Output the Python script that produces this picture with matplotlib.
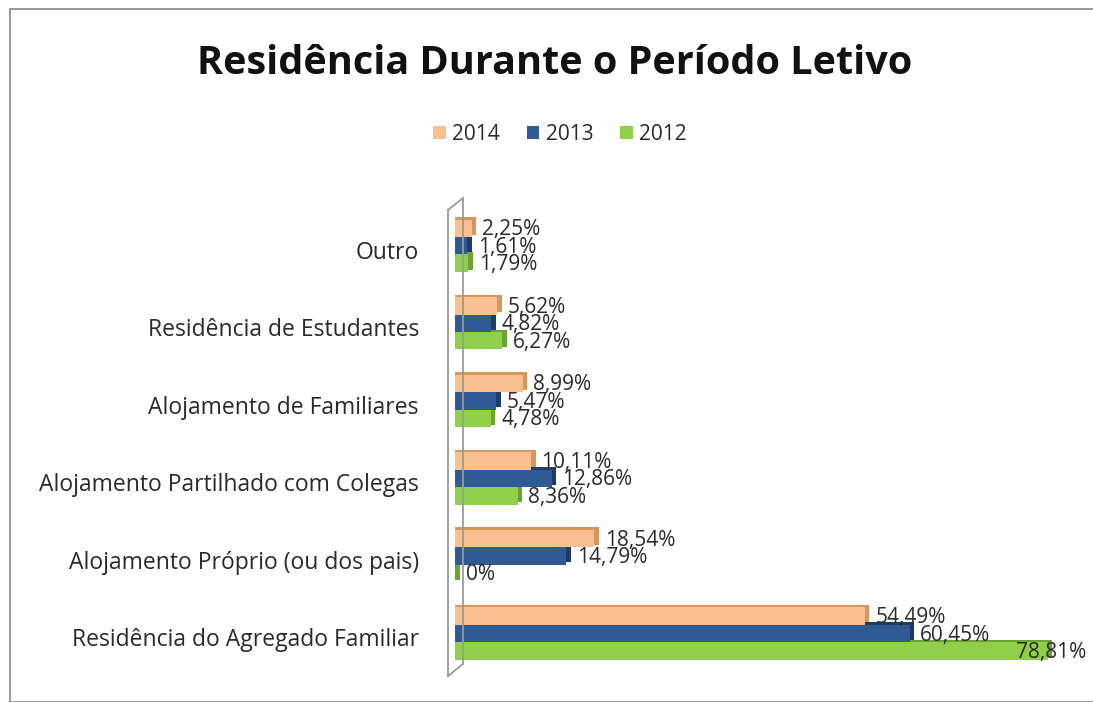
import matplotlib
matplotlib.use("Agg")
import matplotlib.pyplot as plt
from matplotlib.patches import Rectangle, Patch
from matplotlib.lines import Line2D
import numpy as np

plt.rcParams['font.family'] = ['Open Sans', 'DejaVu Sans']

categories = ["Outro",
              "Residência de Estudantes",
              "Alojamento de Familiares",
              "Alojamento Partilhado com Colegas",
              "Alojamento Próprio (ou dos pais)",
              "Residência do Agregado Familiar"]
years = ["2014", "2013", "2012"]
v2014 = [2.25, 5.62, 8.99, 10.11, 18.54, 54.49]
v2013 = [1.61, 4.82, 5.47, 12.86, 14.79, 60.45]
v2012 = [1.79, 6.27, 4.78, 8.36, 0, 78.81]

colors = ["#FAC090", "#2F5A93", "#8FCF4A"]
dark = ["#D8965C", "#1E3D66", "#6AA532"]

W, H = 1093, 702
fig = plt.figure(figsize=(W / 100, H / 100), dpi=100)

# outer chart frame
fig.patches.append(Rectangle((10 / W, 0), 1.2, 1 - 9 / H, transform=fig.transFigure,
                             fill=False, edgecolor="#888888", lw=1.2))

# 3D wall behind the bars
wall = [((448, 210), (448, 676)), ((463, 198), (463, 664)),
        ((448, 210), (463, 198)), ((448, 676), (463, 664))]
for (x0, y0), (x1, y1) in wall:
    fig.lines.append(Line2D([x0 / W, x1 / W], [1 - y0 / H, 1 - y1 / H],
                            transform=fig.transFigure, color="#9a9a9a", lw=1.3))

ax = fig.add_axes([455 / W, 1 - 673 / H, (80 * 7.52) / W, 473 / H])
ax.patch.set_alpha(0)

y = np.arange(len(categories))
h = 0.225
series = [v2014, v2013, v2012]
offs = [-h, 0, h]
for vals, off, c, dc, yr in zip(series, offs, colors, dark, years):
    ax.barh(y + off + 0.01, np.array(vals) + 0.6, height=h, left=0,
            color=dc, zorder=2)
    ax.barh(y + off + 0.04, vals, height=h, color=c, zorder=3, label=yr)
    for yi, v in zip(y, vals):
        lx = min(v + 1.4, 74.6)
        ax.text(lx, yi + off + 0.06, f"{v:.2f}%".replace(".", ",") if v else "0%",
                va="center", ha="left", fontsize=15, color="#2a2a2a", zorder=4)

ax.set_xlim(0, 80)
ax.set_ylim(5.55, -0.55)
ax.set_yticks(y + 0.09)
ax.set_yticklabels(categories, fontsize=16.5, color="#2a2a2a")
ax.tick_params(axis="y", length=0, pad=26)
ax.set_xticks([])
for s in ax.spines.values():
    s.set_visible(False)

fig.text(555 / W, 1 - 64 / H, "Residência Durante o Período Letivo",
         ha="center", va="center", fontsize=28.5, fontweight="bold", color="#111111")

handles = [Patch(facecolor=c, edgecolor="none") for c in colors]
fig.legend(handles, years, loc="center", bbox_to_anchor=(560 / W, 1 - 134 / H),
           ncol=3, frameon=False, fontsize=15, handlelength=0.6, handleheight=0.6,
           handletextpad=0.3, columnspacing=1.3, labelcolor="#2a2a2a")

fig.savefig("out.png", dpi=100)
